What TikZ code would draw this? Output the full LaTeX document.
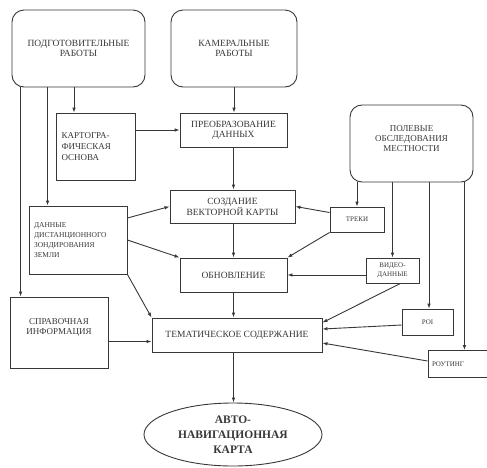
\documentclass[tikz,border=0pt]{standalone}
\usepackage{fontspec}
\setmainfont{Liberation Serif}
\usetikzlibrary{arrows.meta,shapes.geometric,calc}
\definecolor{ink}{RGB}{55,55,55}
\begin{document}
\begin{tikzpicture}[x=1pt,y=-1pt,
  every node/.style={text=ink},
  box/.style={draw=ink,line width=0.9pt,rectangle,inner sep=2pt,align=center,
    font=\fontsize{9.5}{10}\selectfont},
  rbox/.style={box,rounded corners=12pt},
  sbox/.style={box,font=\fontsize{7}{8.5}\selectfont},
  arr/.style={draw=ink,line width=0.9pt,-{Latex[length=5pt,width=3.6pt]}},
  ln/.style={draw=ink,line width=0.9pt}]
\useasboundingbox (0,0) rectangle (487,467);
\clip (0,0) rectangle (487,467);

% top rounded boxes
\node[rbox,minimum width=133pt,minimum height=77pt] (prep) at (78.5,48.5) {ПОДГОТОВИТЕЛЬНЫЕ\\РАБОТЫ};
\node[rbox,minimum width=126pt,minimum height=77pt] (kam) at (234,48.5) {КАМЕРАЛЬНЫЕ\\РАБОТЫ};
\node[rbox,minimum width=123pt,minimum height=77pt] (pol) at (411.5,143.5) {};
\node[align=center,font=\fontsize{9}{10}\selectfont,anchor=north] (poltxt) at ([yshift=-17pt]pol.north) {ПОЛЕВЫЕ\\ОБСЛЕДОВАНИЯ\\МЕСТНОСТИ};

% boxes
\node[box,minimum width=79pt,minimum height=67pt,text width=68pt,align=left,font=\fontsize{9}{11}\selectfont] (kart) at (95.5,146.5) {КАРТОГРА-\\ФИЧЕСКАЯ\\ОСНОВА};
\node[box,minimum width=107pt,minimum height=34pt] (preob) at (233.5,130) {ПРЕОБРАЗОВАНИЕ\\ДАННЫХ};
\node[box,minimum width=125pt,minimum height=33pt] (sozd) at (232.5,206.5) {СОЗДАНИЕ\\ВЕКТОРНОЙ КАРТЫ};
\node[box,minimum width=98pt,minimum height=68pt,text width=88pt,align=left,font=\fontsize{7.5}{10}\selectfont] (dzz) at (78,240) {ДАННЫЕ\\ДИСТАНЦИОННОГО\\ЗОНДИРОВАНИЯ\\ЗЕМЛИ};
\node[box,minimum width=107pt,minimum height=34pt] (obn) at (233.5,275) {ОБНОВЛЕНИЕ};
\node[box,minimum width=170pt,minimum height=34pt] (tema) at (237,335) {ТЕМАТИЧЕСКОЕ СОДЕРЖАНИЕ};
\node[box,minimum width=98pt,minimum height=71pt] (sprav) at (59,332.5) {};
\node[align=center,font=\fontsize{9}{10}\selectfont,anchor=north] (spravtxt) at ([yshift=-18pt]sprav.north) {СПРАВОЧНАЯ\\ИНФОРМАЦИЯ};

% small boxes
\node[sbox,minimum width=54pt,minimum height=25pt] (treki) at (357,219.5) {ТРЕКИ};
\node[sbox,minimum width=53pt,minimum height=25pt] (video) at (392.5,270.5) {ВИДЕО-\\ДАННЫЕ};
\node[sbox,minimum width=51pt,minimum height=26pt] (poi) at (427.5,322) {POI};
\node[sbox,minimum width=64pt,minimum height=27pt,text width=56pt,align=left] (rout) at (460,364) {РОУТИНГ};

% ellipse
\node[draw=ink,line width=0.9pt,ellipse,minimum width=178pt,minimum height=63pt,inner sep=0pt,
  align=center,font=\bfseries\fontsize{11.5}{15}\selectfont] (ell) at (233,434.5) {АВТО-\\НАВИГАЦИОННАЯ\\КАРТА};

% connectors from prep
\draw[arr] ([xshift=9pt]prep.south west) -- ([xshift=9pt]prep.south west |- sprav.north);
\draw[arr] ([xshift=36pt]prep.south west) -- ([xshift=36pt]prep.south west |- dzz.north);
\draw[arr] ([xshift=-4.5pt]prep.south) -- ([xshift=-4.5pt]prep.south |- kart.north);
\draw[arr] (kart.east |- preob.west) -- (preob.west);
\draw[arr] (kam.south) -- (kam.south |- preob.north);
\draw[arr] (preob.south) -- (preob.south |- sozd.north);
\draw[arr] (sozd.south -| preob.south) -- (preob.south |- obn.north);
\draw[arr] (obn.south) -- (obn.south |- tema.north);
\draw[arr] (obn.south |- tema.south) -- (obn.south |- ell.north);

% from dzz
\draw[arr] ([yshift=22pt]dzz.east) -- (sozd.west);
\draw[arr] (dzz.east) -- (obn.north west);
\draw[arr] (dzz.south east) -- (tema.north west);

% from pol
\draw[arr] (pol.south -| treki.north) -- (treki.north);
\draw[arr] (pol.south -| video.north) -- (video.north);
\draw[arr] ([xshift=1.5pt]pol.south -| poi.north) -- ([xshift=1.5pt]poi.north);
\draw[arr] ([xshift=-9pt]pol.south east) -- ([xshift=-9pt]pol.south east |- rout.north);

% small boxes to main chain
\draw[arr] ([yshift=7pt]treki.west) -- (sozd.east);
\draw[arr] (treki.south west) -- (obn.north east);
\draw[arr] (video.west |- obn.east) -- (obn.east);
\draw[arr] ([xshift=8pt]video.south) -- ([yshift=-5pt]tema.north east);
\draw[arr] ([yshift=-3pt]poi.west) -- ([yshift=6pt]tema.east);
\draw[arr] ([yshift=3pt]rout.west) -- ([yshift=-8pt]tema.east);
\coordinate (spo) at ([yshift=-9pt]sprav.east);
\draw[arr] (spo) -- (tema.west |- spo);
\end{tikzpicture}
\end{document}
